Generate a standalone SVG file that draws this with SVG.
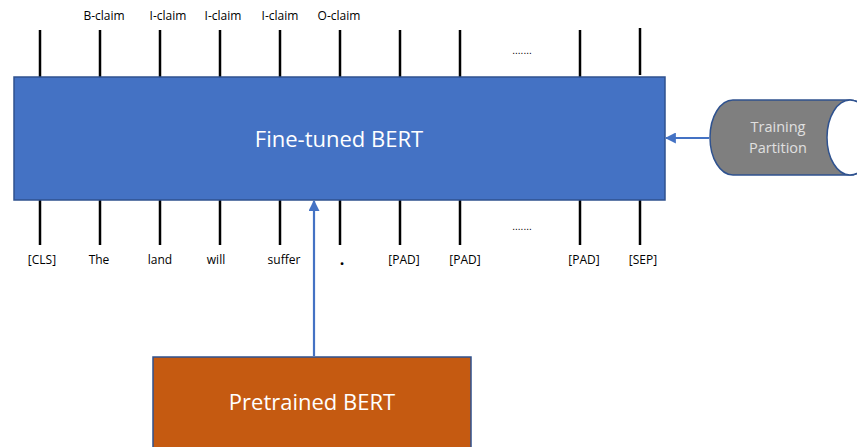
<svg xmlns="http://www.w3.org/2000/svg" width="857" height="447" viewBox="0 0 857 447">
  <style>
    .tok { stroke: #000; stroke-width: 2.5; }
    .lbl { font-family: "Open Sans", "Liberation Sans", sans-serif; font-size: 12px; fill: #000; text-anchor: middle; }
    .dots { font-family: "Liberation Sans", sans-serif; font-size: 10px; fill: #000; text-anchor: middle; }
    .big { font-family: "Open Sans", "Liberation Sans", sans-serif; font-size: 22px; fill: #fff; text-anchor: middle; }
    .store { font-family: "Open Sans", "Liberation Sans", sans-serif; font-size: 14.5px; fill: #E0E0E0; text-anchor: middle; }
    .conn { stroke: #4472C4; stroke-width: 2.2; fill: none; }
  </style>
  <defs>
    <marker id="ah" viewBox="0 0 10 10" refX="9" refY="5" markerWidth="5" markerHeight="5" orient="auto">
      <path d="M0,0 L10,5 L0,10 Z" fill="#4472C4"/>
    </marker>
  </defs>
  <rect width="857" height="447" fill="#fff"/>

  <!-- output token lines -->
  <g id="outputs">
    <line class="tok" x1="40" y1="30" x2="40" y2="77"/>
    <line class="tok" x1="100" y1="30" x2="100" y2="77"/>
    <line class="tok" x1="160" y1="30" x2="160" y2="77"/>
    <line class="tok" x1="220" y1="30" x2="220" y2="77"/>
    <line class="tok" x1="280" y1="30" x2="280" y2="77"/>
    <line class="tok" x1="340" y1="30" x2="340" y2="77"/>
    <line class="tok" x1="400" y1="30" x2="400" y2="77"/>
    <line class="tok" x1="460" y1="30" x2="460" y2="77"/>
    <line class="tok" x1="580" y1="30" x2="580" y2="77"/>
    <line class="tok" x1="640" y1="28" x2="640" y2="75"/>
    <text class="lbl" x="104" y="20">B-claim</text>
    <text class="lbl" x="168" y="20">I-claim</text>
    <text class="lbl" x="223" y="20">I-claim</text>
    <text class="lbl" x="280" y="20">I-claim</text>
    <text class="lbl" x="339" y="20">O-claim</text>
    <text class="dots" x="522" y="54">.......</text>
  </g>

  <!-- input token lines -->
  <g id="inputs">
    <line class="tok" x1="40" y1="200" x2="40" y2="245"/>
    <line class="tok" x1="100" y1="200" x2="100" y2="245"/>
    <line class="tok" x1="160" y1="200" x2="160" y2="245"/>
    <line class="tok" x1="220" y1="200" x2="220" y2="245"/>
    <line class="tok" x1="280" y1="200" x2="280" y2="245"/>
    <line class="tok" x1="340" y1="200" x2="340" y2="245"/>
    <line class="tok" x1="400" y1="200" x2="400" y2="245"/>
    <line class="tok" x1="460" y1="200" x2="460" y2="245"/>
    <line class="tok" x1="580" y1="200" x2="580" y2="245"/>
    <line class="tok" x1="640" y1="200" x2="640" y2="245"/>
    <text class="lbl" x="42" y="264">[CLS]</text>
    <text class="lbl" x="99" y="264">The</text>
    <text class="lbl" x="160" y="264">land</text>
    <text class="lbl" x="216" y="264">will</text>
    <text class="lbl" x="284" y="264">suffer</text>
    <text class="lbl" x="342" y="265" style="font-size:16px;font-weight:bold">.</text>
    <text class="lbl" x="404" y="264">[PAD]</text>
    <text class="lbl" x="465" y="264">[PAD]</text>
    <text class="lbl" x="584" y="264">[PAD]</text>
    <text class="lbl" x="643" y="264">[SEP]</text>
    <text class="dots" x="522" y="230">.......</text>
  </g>

  <!-- fine-tuned model -->
  <g id="finetuned">
    <rect x="14" y="77" width="651" height="123" fill="#4472C4" stroke="#2F528F" stroke-width="1.5"/>
    <text class="big" x="339" y="147">Fine-tuned BERT</text>
  </g>

  <!-- pretrained model -->
  <g id="pretrained">
    <rect x="153" y="357" width="318" height="100" fill="#C55A11" stroke="#2F528F" stroke-width="1.5"/>
    <text class="big" x="312" y="410">Pretrained BERT</text>
  </g>

  <!-- training data store -->
  <g id="training">
    <path d="M733,100 L850,100 A23,37.5 0 0 1 850,175 L733,175 A23,37.5 0 0 1 733,100 Z" fill="#7F7F7F" stroke="#2F528F" stroke-width="1.5"/>
    <ellipse cx="850" cy="137.5" rx="23" ry="37.5" fill="#fff" stroke="#2F528F" stroke-width="1.5"/>
    <text class="store" x="778" y="132">Training</text>
    <text class="store" x="778" y="153">Partition</text>
  </g>

  <!-- connectors -->
  <g id="connectors">
    <line class="conn" x1="314" y1="356" x2="314" y2="201" marker-end="url(#ah)"/>
    <line class="conn" x1="709" y1="138" x2="666" y2="138" marker-end="url(#ah)"/>
  </g>
</svg>
